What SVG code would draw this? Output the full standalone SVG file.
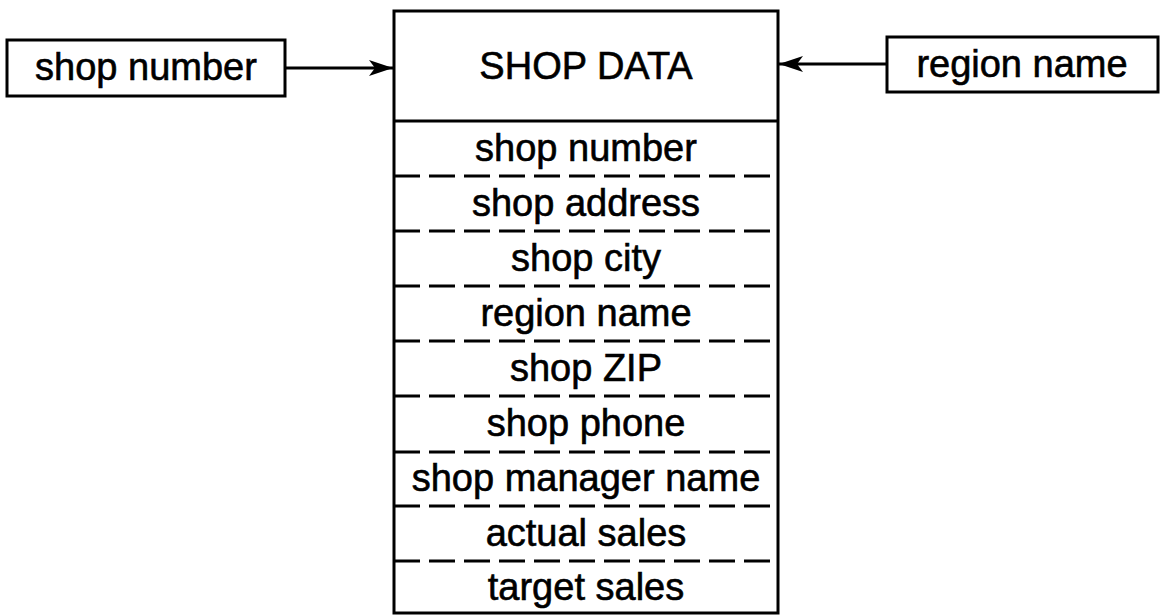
<svg xmlns="http://www.w3.org/2000/svg" width="1160" height="615" viewBox="0 0 1160 615">
<style>
.box{fill:#fff;stroke:#000;stroke-width:3}
.sep{stroke:#000;stroke-width:3}
.dash{stroke:#000;stroke-width:3;stroke-dasharray:26 9}
text{font-family:"Liberation Sans",Arial,sans-serif;font-size:38px;fill:#000;stroke:#000;stroke-width:0.6;text-anchor:middle}
.conn{stroke:#000;stroke-width:3;fill:none}
</style>
<defs>
<marker id="ah" markerUnits="userSpaceOnUse" markerWidth="26" markerHeight="16" refX="24" refY="8" orient="auto">
<path d="M0,0 L24,8 L0,16 L6,8 Z" fill="#000"/>
</marker>
</defs>
<rect width="1160" height="615" fill="#fff"/>
<g id="shop-number-input">
<rect class="box" x="7" y="40" width="278" height="56"/>
<text x="146" y="80">shop number</text>
</g>
<g id="region-name-input">
<rect class="box" x="887" y="37" width="271" height="55"/>
<text x="1022" y="77">region name</text>
</g>
<g id="shop-data">
<rect class="box" x="394" y="11" width="384" height="602"/>
<line class="sep" x1="394" y1="121" x2="778" y2="121"/>
<text x="586" y="79">SHOP DATA</text>
<line class="dash" x1="394" y1="176" x2="778" y2="176"/>
<line class="dash" x1="394" y1="231" x2="778" y2="231"/>
<line class="dash" x1="394" y1="286" x2="778" y2="286"/>
<line class="dash" x1="394" y1="341" x2="778" y2="341"/>
<line class="dash" x1="394" y1="396" x2="778" y2="396"/>
<line class="dash" x1="394" y1="452" x2="778" y2="452"/>
<line class="dash" x1="394" y1="506" x2="778" y2="506"/>
<line class="dash" x1="394" y1="561" x2="778" y2="561"/>
<text x="586" y="161">shop number</text>
<text x="586" y="216">shop address</text>
<text x="586" y="271">shop city</text>
<text x="586" y="326">region name</text>
<text x="586" y="381">shop ZIP</text>
<text x="586" y="436">shop phone</text>
<text x="586" y="491">shop manager name</text>
<text x="586" y="546">actual sales</text>
<text x="586" y="600">target sales</text>
</g>
<g id="connectors">
<line class="conn" x1="285" y1="68" x2="393" y2="68" marker-end="url(#ah)"/>
<line class="conn" x1="887" y1="64" x2="779" y2="64" marker-end="url(#ah)"/>
</g>
</svg>
